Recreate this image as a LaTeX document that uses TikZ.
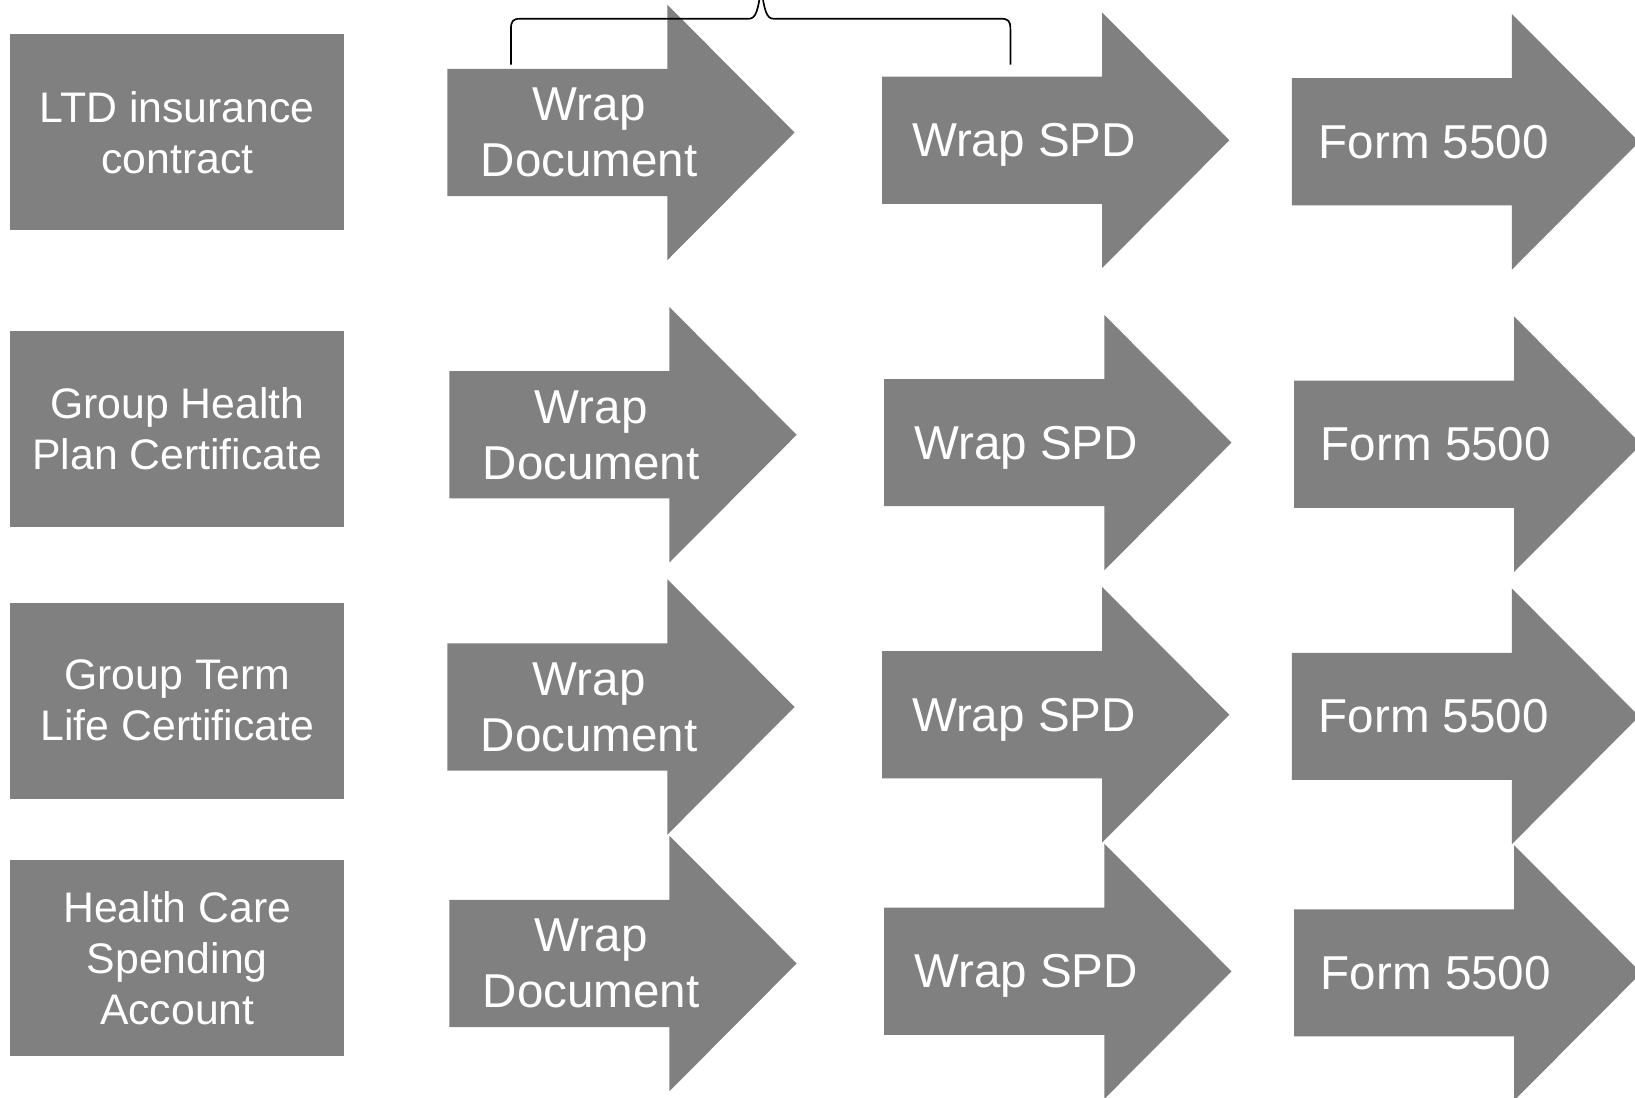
\documentclass[tikz,border=0pt]{standalone}
\usepackage{fontspec}
\setmainfont{Liberation Sans}
\definecolor{boxgray}{HTML}{808080}
\newcommand{\arw}[4]{\fill[boxgray] (#2,#3-61) -- ++(211,0) -- ++(0,-61.5) -- ++(122,122.5) -- ++(-122,122.5) -- ++(0,-61.5) -- ++(-211,0) -- cycle; \node[arwtext] (#1) at (#2+136,#3) {#4}; }
\newcommand{\arwrow}[3]{\arw{wd#1}{#2}{#3}{Wrap\\Document} \arw{spd#1}{#2+417}{#3+7.5}{Wrap SPD} \arw{frm#1}{#2+810}{#3+9}{Form 5500} }

\begin{document}
\begin{tikzpicture}[x=0.5pt,y=-0.5pt,
  srcbox/.style={fill=boxgray,text=white,minimum width=160pt,minimum height=94pt,inner sep=0pt,align=center,font=\fontsize{20.5}{24.5}\selectfont},
  arwtext/.style={text=white,align=center,inner sep=0pt,text depth=0pt,font=\fontsize{22.8}{27}\selectfont}]
  \useasboundingbox (0,0) rectangle (1568,1053);
  \node[srcbox] (ltd) at (170,127) {LTD insurance\\contract};
  \node[srcbox] (ghp) at (170,411) {Group Health\\Plan Certificate};
  \node[srcbox] (gtl) at (170,672) {Group Term\\Life Certificate};
  \node[srcbox] (hcs) at (170,919) {Health Care\\Spending\\Account};
  \arwrow 1{429}{127}
  \arwrow 2{431}{417}
  \arwrow 3{429}{678}
  \arwrow 4{431}{924}
  \draw[line width=0.8pt] (490,62) -- (490,28) .. controls (490,20) and (492,18) .. (499,18) -- (718,18) .. controls (725,18) and (727,10) .. (730,-12) .. controls (733,10) and (735,18) .. (742,18) -- (960,18) .. controls (967,18) and (969,20) .. (969,28) -- (969,62);
\end{tikzpicture}
\end{document}
